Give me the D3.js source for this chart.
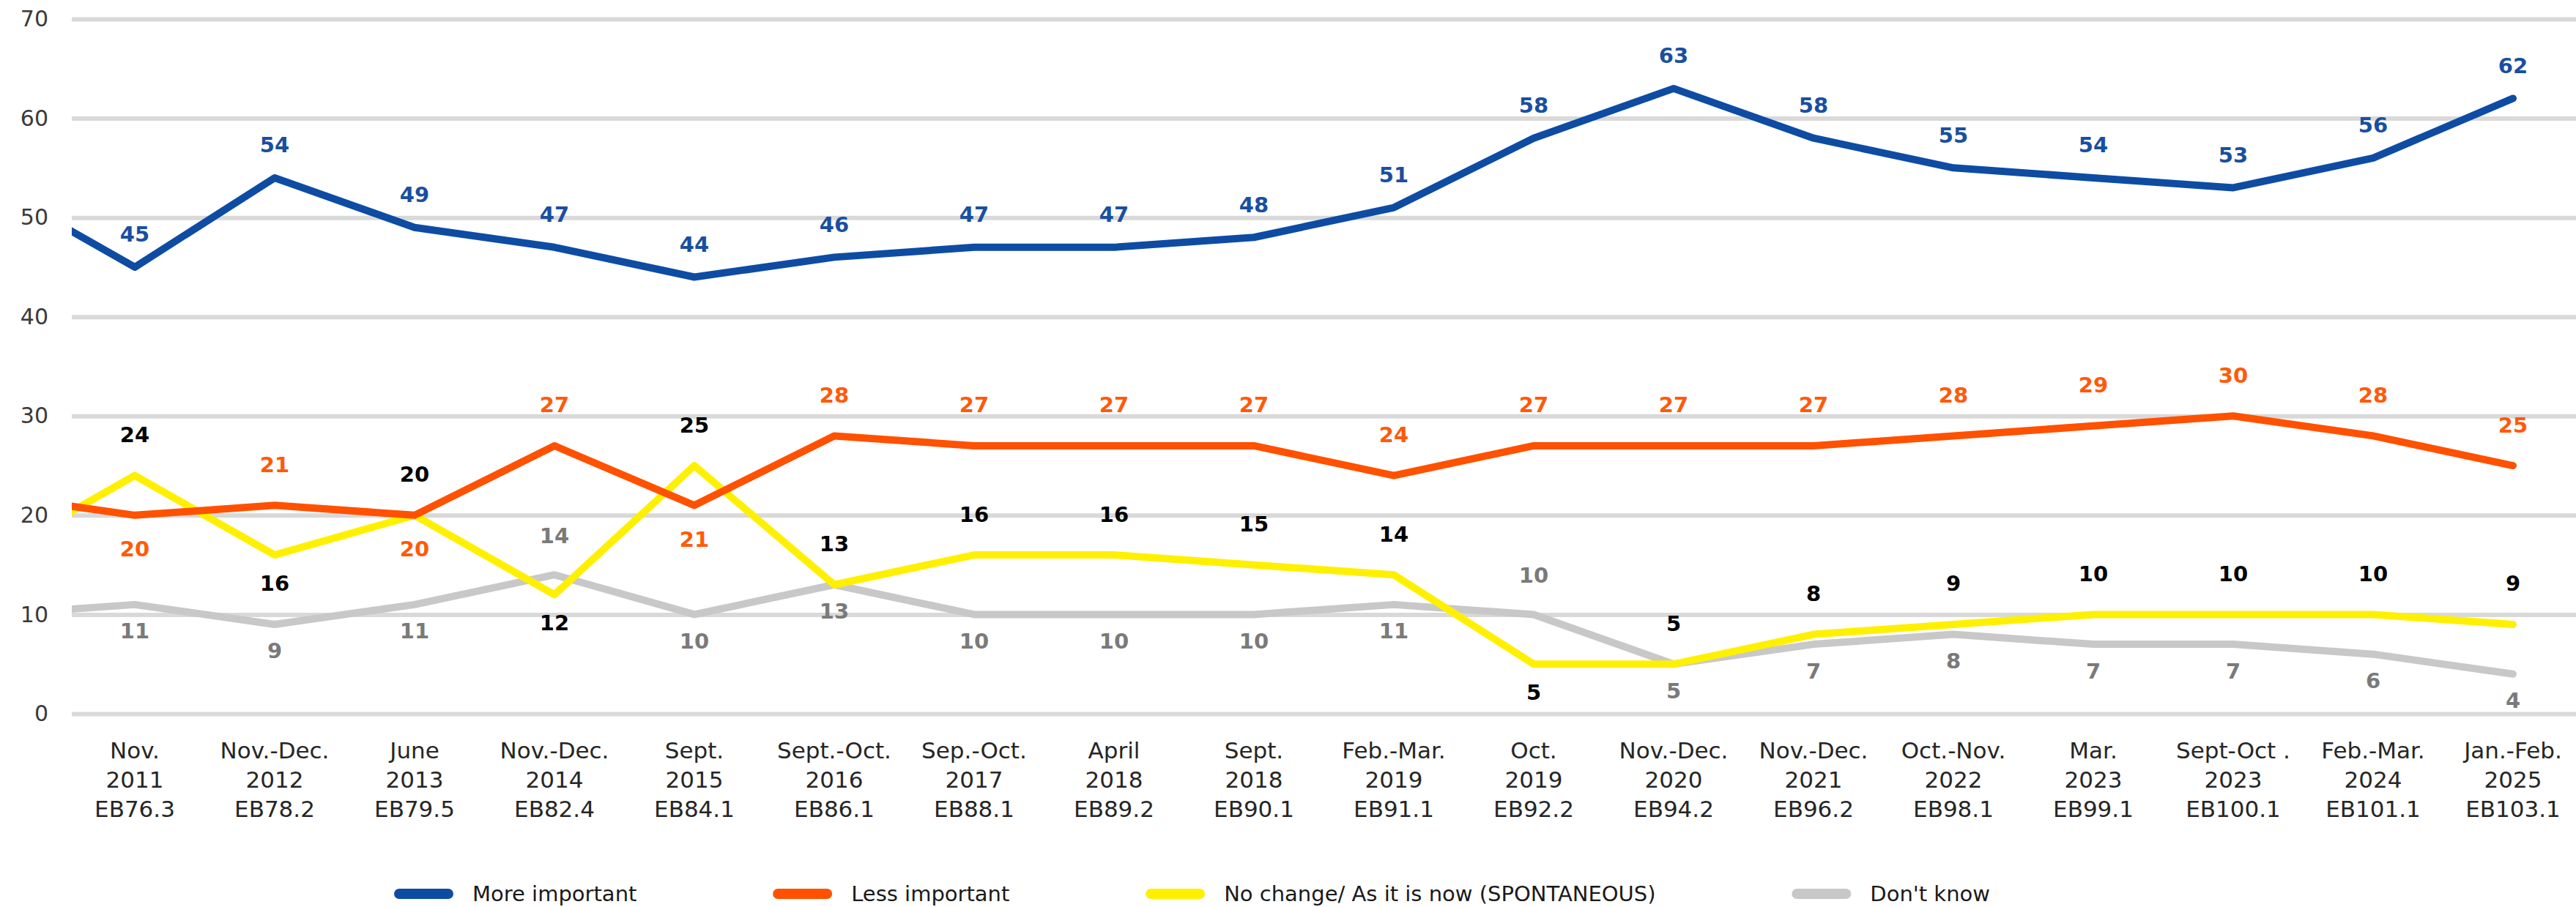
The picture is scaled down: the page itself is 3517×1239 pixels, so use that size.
<!DOCTYPE html>
<html>
<head>
<meta charset="utf-8">
<script src="https://cdn.jsdelivr.net/npm/d3@7/dist/d3.min.js"></script>
<style>
  body { margin: 0; background: #fff; }
  svg { display: block; font-family: "DejaVu Sans", "Open Sans", sans-serif; }
</style>
</head>
<body>
<div id="chart"></div>
<script>
// survey waves (3 label lines each)
var waves = [
  ["Nov.", "2011", "EB76.3"],
  ["Nov.-Dec.", "2012", "EB78.2"],
  ["June", "2013", "EB79.5"],
  ["Nov.-Dec.", "2014", "EB82.4"],
  ["Sept.", "2015", "EB84.1"],
  ["Sept.-Oct.", "2016", "EB86.1"],
  ["Sep.-Oct.", "2017", "EB88.1"],
  ["April", "2018", "EB89.2"],
  ["Sept.", "2018", "EB90.1"],
  ["Feb.-Mar.", "2019", "EB91.1"],
  ["Oct.", "2019", "EB92.2"],
  ["Nov.-Dec.", "2020", "EB94.2"],
  ["Nov.-Dec.", "2021", "EB96.2"],
  ["Oct.-Nov.", "2022", "EB98.1"],
  ["Mar.", "2023", "EB99.1"],
  ["Sept-Oct .", "2023", "EB100.1"],
  ["Feb.-Mar.", "2024", "EB101.1"],
  ["Jan.-Feb.", "2025", "EB103.1"]
];

var moreImportant = [45, 54, 49, 47, 44, 46, 47, 47, 48, 51, 58, 63, 58, 55, 54, 53, 56, 62];
var lessImportant = [20, 21, 20, 27, 21, 28, 27, 27, 27, 24, 27, 27, 27, 28, 29, 30, 28, 25];
var noChange      = [24, 16, 20, 12, 25, 13, 16, 16, 15, 14, 5, 5, 8, 9, 10, 10, 10, 9];
var dontKnow      = [11, 9, 11, 14, 10, 13, 10, 10, 10, 11, 10, 5, 7, 8, 7, 7, 6, 4];

// earlier wave that is cut off by the left edge of the plot
var previousWave = [53, 22, 16, 10];

// where each value label sits: a = above the line, b = below
var moreSide = "aaaaaaaaaaaaaaaaaa";
var lessSide = "bababaaaaaaaaaaaaa";
var noChangeSide = "ababaaaaaabaaaaaaa";
var dontKnowSide = "bbbabbbbbbabbbbbbb";

var yTicks = [0, 10, 20, 30, 40, 50, 60, 70];

var legendNames = ["More important", "Less important", "No change/ As it is now (SPONTANEOUS)", "Don't know"];

var series = [
  { name: legendNames[0], values: moreImportant, side: moreSide, prev: previousWave[0],
    color: "#0e4ca3", label: "#1a4f9f", up: 45, down: 45 },
  { name: legendNames[1], values: lessImportant, side: lessSide, prev: previousWave[1],
    color: "#ff5100", label: "#ff5a0a", up: 56, down: 46 },
  { name: legendNames[2], values: noChange, side: noChangeSide, prev: previousWave[2],
    color: "#fff000", label: "#000000", up: 56, down: 38 },
  { name: legendNames[3], values: dontKnow, side: dontKnowSide, prev: previousWave[3],
    color: "#c8c8c8", label: "#7a7a7a", up: 54, down: 36 }
];

var svgWidth = 3517;
var svgHeight = 1239;

var plotLeft = 98;
var plotRight = 3517;

var svg = d3.select("#chart")
  .append("svg")
  .attr("width", svgWidth)
  .attr("height", svgHeight);

var x = d3.scaleLinear()
  .domain([0, waves.length - 1])
  .range([184, 3431]);

var y = d3.scaleLinear()
  .domain([0, 70])
  .range([975, 26]);

// gridlines + y labels
var yAxis = d3.axisLeft(y)
  .tickValues(yTicks)
  .tickSize(-(plotRight - plotLeft))
  .tickPadding(32);

var yG = svg.append("g")
  .attr("transform", `translate(${plotLeft},0)`)
  .call(yAxis)
  .attr("font-family", null)
  .attr("font-size", 30);
yG.select(".domain").remove();
yG.selectAll(".tick line")
  .attr("stroke", "#d9d9d9")
  .attr("stroke-width", 6);
yG.selectAll(".tick text")
  .attr("fill", "#3a3a3a");

// clip for the lines, so the cut-off earlier wave ends at the plot edge
svg.append("clipPath")
  .attr("id", "plotClip")
  .append("rect")
  .attr("x", plotLeft)
  .attr("y", 0)
  .attr("width", plotRight - plotLeft)
  .attr("height", svgHeight);

var line = d3.line()
  .x(d => x(d.i))
  .y(d => y(d.v));

var linesG = svg.append("g").attr("clip-path", "url(#plotClip)");

// draw back to front: grey, yellow, orange, blue
series.slice().reverse().forEach(function(s) {
  var pts = [{ i: -1, v: s.prev }].concat(s.values.map((v, i) => ({ i: i, v: v })));
  linesG.append("path")
    .datum(pts)
    .attr("d", line)
    .attr("fill", "none")
    .attr("stroke", s.color)
    .attr("stroke-width", 10)
    .attr("stroke-linejoin", "round")
    .attr("stroke-linecap", "round");
});

// value labels
series.forEach(function(s) {
  svg.append("g")
    .selectAll("text")
    .data(s.values)
    .enter()
    .append("text")
    .attr("x", (d, i) => x(i))
    .attr("y", (d, i) => y(d) + (s.side[i] === "a" ? -s.up : s.down))
    .attr("dy", "0.36em")
    .attr("text-anchor", "middle")
    .attr("fill", s.label)
    .style("font-size", "29px")
    .style("font-weight", "bold")
    .text(d => d);
});

// category labels
var catG = svg.append("g")
  .selectAll("text")
  .data(waves)
  .enter()
  .append("text")
  .attr("text-anchor", "middle")
  .attr("fill", "#262626")
  .style("font-size", "31px");

catG.selectAll("tspan")
  .data((d, i) => d.map(t => ({ t: t, i: i })))
  .enter()
  .append("tspan")
  .attr("x", d => x(d.i))
  .attr("y", (d, k) => 1025 + k * 40)
  .attr("dy", "0.36em")
  .text(d => d.t);

// legend, spread between x=538 and x=2717 like the original
var legend = svg.append("g");
var items = legend.selectAll("g")
  .data(series)
  .enter()
  .append("g");

items.append("line")
  .attr("x1", 7)
  .attr("x2", 74)
  .attr("stroke", d => d.color)
  .attr("stroke-width", 14)
  .attr("stroke-linecap", "round");

items.append("text")
  .attr("x", 107)
  .attr("dy", "0.36em")
  .attr("fill", "#1a1a1a")
  .style("font-size", "29px")
  .text(d => d.name);

var widths = [];
items.each(function() {
  widths.push(107 + d3.select(this).select("text").node().getComputedTextLength());
});
var legendStart = 538, legendEnd = 2717;
var gap = (legendEnd - legendStart - d3.sum(widths)) / (widths.length - 1);
var pos = legendStart;
items.attr("transform", function(d, i) {
  var t = `translate(${pos},1221)`;
  pos += widths[i] + gap;
  return t;
});
</script>
</body>
</html>
